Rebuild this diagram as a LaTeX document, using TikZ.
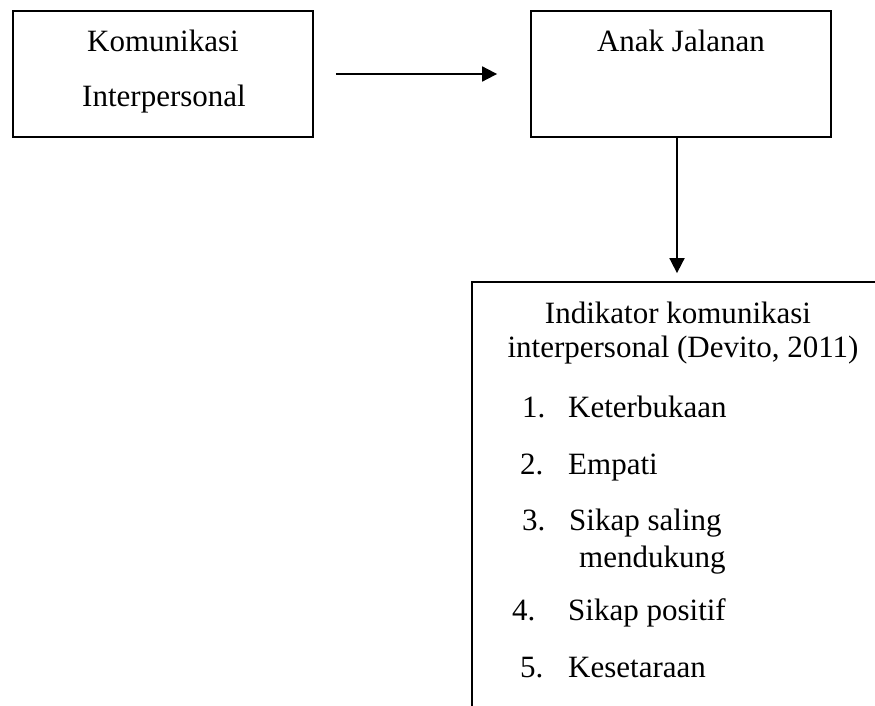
\documentclass[tikz,border=0pt]{standalone}
\usepackage{fontspec}
\setmainfont{Liberation Serif}
\usetikzlibrary{arrows.meta}

\tikzset{
    kotak/.style={draw, line width=1.8pt, inner sep=0pt},
    tulisan/.style={anchor=base, inner sep=0pt, font=\fontsize{31}{37}\selectfont},
    butir/.style={tulisan, anchor=base west},
    panah/.style={line width=1.8pt, -{Triangle[length=15pt, width=15pt]}}
}

\begin{document}
\begin{tikzpicture}[x=1pt, y=-1pt]
    \useasboundingbox (0,0) rectangle (875,706);
    \clip (0,0) rectangle (875,706);
    \path node[kotak, minimum width=300pt, minimum height=126pt] (kom) at (163,74) {}
        node[kotak, minimum width=300pt, minimum height=126pt] (anak) at (681,74) {}
        node[kotak, minimum width=528pt, minimum height=518pt] (indi) at (736,541) {};
    \path node[tulisan] (t1) at (163,51.7) {Komunikasi}
        node[tulisan] (t2) at (164,106.7) {Interpersonal}
        node[tulisan] (t3) at (681,51.7) {Anak Jalanan}
        node[tulisan] (t4) at (678,323) {Indikator komunikasi}
        node[tulisan] (t5) at (683,357) {interpersonal (Devito, 2011)};
    \path node[butir] (n1) at (522,417) {1.}
        node[butir] (i1) at (568,417) {Keterbukaan}
        node[butir] (n2) at (520,474) {2.}
        node[butir] (i2) at (568,474) {Empati}
        node[butir] (n3) at (522,530) {3.}
        node[butir] (i3) at (569,530) {Sikap saling}
        node[butir] (i3b) at (579,567) {mendukung}
        node[butir] (n4) at (512,620) {4.}
        node[butir] (i4) at (568,620) {Sikap positif}
        node[butir] (n5) at (520,677) {5.}
        node[butir] (i5) at (568,677) {Kesetaraan};
    \draw[panah, shorten <=22pt, shorten >=33pt] (kom.east) -- (anak.west);
    \draw[panah, shorten >=8pt] ([xshift=-4pt]anak.south) -- ([xshift=-4pt]anak.south |- indi.north);
\end{tikzpicture}
\end{document}
